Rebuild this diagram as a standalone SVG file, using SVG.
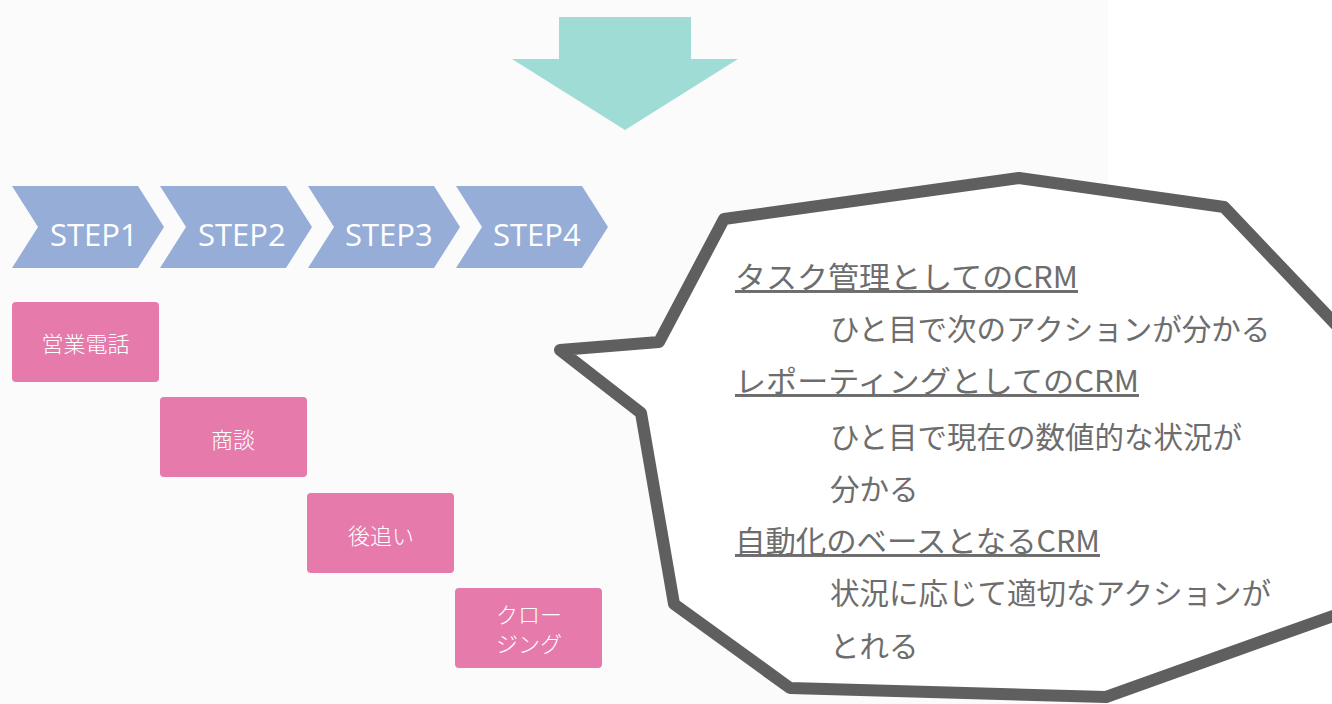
<svg xmlns="http://www.w3.org/2000/svg" width="1332" height="704" viewBox="0 0 1332 704">
<style>
.chev{fill:#95add7}
.chevt{font-family:"Open Sans","Liberation Sans",sans-serif;font-size:31px;fill:#ffffff}
.box{fill:#e57aab}
.boxt{font-family:"Noto Sans CJK JP","Noto Sans",sans-serif;font-size:22px;font-weight:300;fill:#ffffff;text-anchor:middle}
.bt{font-family:"Noto Sans CJK JP","Noto Sans",sans-serif;font-size:29.5px;fill:#6d6d6d}
.hd{text-decoration:underline}
</style>
<rect x="0" y="0" width="1332" height="704" fill="#ffffff"/>
<rect x="0" y="0" width="1108" height="704" fill="#fbfbfb"/>
<g id="arrow">
<polygon points="559,17 691,17 691,59 738,59 625,130 512,59 559,59" fill="#a0dcd6"/>
</g>
<g id="step1"><polygon class="chev" points="12,186 138,186 164,227 138,268 12,268 38,227"/><text class="chevt" x="50" y="246">STEP1</text></g>
<g id="step2"><polygon class="chev" points="160,186 286,186 312,227 286,268 160,268 186,227"/><text class="chevt" x="198" y="246">STEP2</text></g>
<g id="step3"><polygon class="chev" points="308,186 434,186 460,227 434,268 308,268 334,227"/><text class="chevt" x="345" y="246">STEP3</text></g>
<g id="step4"><polygon class="chev" points="456,186 582,186 608,227 582,268 456,268 482,227"/><text class="chevt" x="493" y="246">STEP4</text></g>
<g id="box1"><rect class="box" x="12" y="302" width="147" height="80" rx="4"/><text class="boxt" x="85.5" y="352">営業電話</text></g>
<g id="box2"><rect class="box" x="160" y="397" width="147" height="80" rx="4"/><text class="boxt" x="233" y="448">商談</text></g>
<g id="box3"><rect class="box" x="307" y="493" width="147" height="80" rx="4"/><text class="boxt" x="381" y="544">後追い</text></g>
<g id="box4"><rect class="box" x="455" y="588" width="147" height="80" rx="4"/><text class="boxt" x="529" y="623">クロー</text><text class="boxt" x="529" y="652">ジング</text></g>
<g id="bubble">
<path d="M1019,178 L1224,207 L1400,392 L1400,592 L1106,697 L790,688 L674,604 L641,413 L560,350 L659,342 L724,219 Z" fill="#ffffff" stroke="#5f5f5f" stroke-width="12" stroke-linejoin="round"/>
<text class="bt hd" x="735" y="288" textLength="343" lengthAdjust="spacingAndGlyphs">タスク管理としてのCRM</text>
<text class="bt" x="830" y="340">ひと目で次のアクションが分かる</text>
<text class="bt hd" x="735" y="392" textLength="404" lengthAdjust="spacingAndGlyphs">レポーティングとしてのCRM</text>
<text class="bt" x="830" y="448">ひと目で現在の数値的な状況が</text>
<text class="bt" x="830" y="500">分かる</text>
<text class="bt hd" x="735" y="552" textLength="365" lengthAdjust="spacingAndGlyphs">自動化のベースとなるCRM</text>
<text class="bt" x="830" y="604">状況に応じて適切なアクションが</text>
<text class="bt" x="830" y="657">とれる</text>
</g>
</svg>
